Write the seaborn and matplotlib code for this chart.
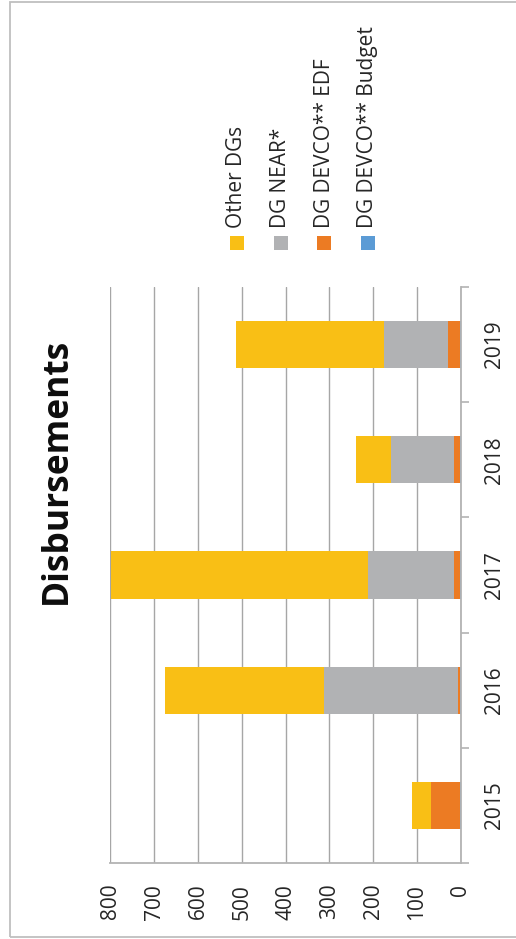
import matplotlib
matplotlib.use("Agg")
import matplotlib.pyplot as plt
import pandas as pd
import seaborn as sns
from matplotlib.patches import Rectangle

# Disbursements per year, by contributing service (EUR million)
years = ["2015", "2016", "2017", "2018", "2019"]
dg_devco_budget = [1, 1, 1, 1, 1]
dg_devco_edf = [66, 6, 15, 15, 29]
dg_near = [1, 304, 196, 144, 146]
other_dgs = [43, 363, 586, 78, 336]

series_names = ["Other DGs", "DG NEAR*", "DG DEVCO** EDF", "DG DEVCO** Budget"]
series_colors = ["#F9BF15", "#B1B2B4", "#EC7B23", "#5B9BD5"]
value_ticks = [0, 100, 200, 300, 400, 500, 600, 700, 800]
title = "Disbursements"

W, H = 516, 939
sns.set_theme(style="white")
plt.rcParams["font.family"] = ["Open Sans", "DejaVu Sans"]
text_color = "#262626"
axis_color = "#B3B3B3"

df = pd.DataFrame({
    "year": years,
    "budget": dg_devco_budget,
    "edf": dg_devco_edf,
    "near": dg_near,
    "other": other_dgs,
})
# cumulative ends of each stacked segment, starting from the axis
df["end_budget"] = df["budget"]
df["end_edf"] = df["end_budget"] + df["edf"]
df["end_near"] = df["end_edf"] + df["near"]
df["end_other"] = df["end_near"] + df["other"]

fig = plt.figure(figsize=(W / 100, H / 100), dpi=100)
ax = fig.add_axes([110.3 / W, 76 / H, 350.4 / W, 576 / H])

order = years[::-1]
for col, color in zip(["end_other", "end_near", "end_edf", "end_budget"], series_colors):
    sns.barplot(data=df, x=col, y="year", order=order, orient="h", color=color,
                saturation=1, width=0.41, linewidth=0, errorbar=None, ax=ax)

ax.set_xlim(800, 0)
ax.set_ylim(4.5, -0.5)
ax.set_xlabel("")
ax.set_ylabel("")

# value axis (drawn at the bottom, labels turned)
ax.set_xticks(value_ticks)
ax.set_xticklabels([str(v) for v in value_ticks], rotation=90, va="top", ha="center")
ax.tick_params(axis="x", length=5, width=1.2, color=axis_color, pad=10,
               labelsize=15, labelcolor=text_color)
ax.grid(axis="x", color="#A6A6A6", linewidth=1.0)
ax.grid(axis="y", visible=False)
ax.set_axisbelow(True)

# category axis on the right with ticks between categories
ax.yaxis.tick_right()
ax.set_yticks([i - 0.5 for i in range(len(years) + 1)])
ax.set_yticklabels([])
ax.set_yticks(range(len(years)), minor=True)
ax.set_yticklabels(order, minor=True, rotation=90, va="center", ha="left")
ax.tick_params(axis="y", which="major", length=6, width=1.2, color=axis_color)
ax.tick_params(axis="y", which="minor", length=0, pad=17, labelsize=15,
               labelcolor=text_color)

for side in ["top", "left"]:
    ax.spines[side].set_visible(False)
for side in ["right", "bottom"]:
    ax.spines[side].set_color(axis_color)
    ax.spines[side].set_linewidth(1.3)

# title
fig.text(57 / W, 1 - 471 / H, title, rotation=90, ha="center", va="center",
         fontsize=25.5, fontweight="bold", color="#0D0D0D")

# legend, laid out along the turned page
legend_x = [237, 281, 324, 368]
for x, name, color in zip(legend_x, series_names, series_colors):
    fig.add_artist(Rectangle(((x - 7) / W, 1 - 250 / H), 14 / W, 14 / H,
                             transform=fig.transFigure, facecolor=color,
                             edgecolor="none"))
    fig.text(x / W, 1 - 228 / H, name, rotation=90, ha="center", va="bottom",
             fontsize=15, color=text_color)

# outer frame
fig.add_artist(Rectangle((9.7 / W, 2 / H), 1.2, 935 / H, transform=fig.transFigure,
                         fill=False, edgecolor="#BFBFBF", linewidth=1.3))

fig.savefig("out.png", dpi=100)
